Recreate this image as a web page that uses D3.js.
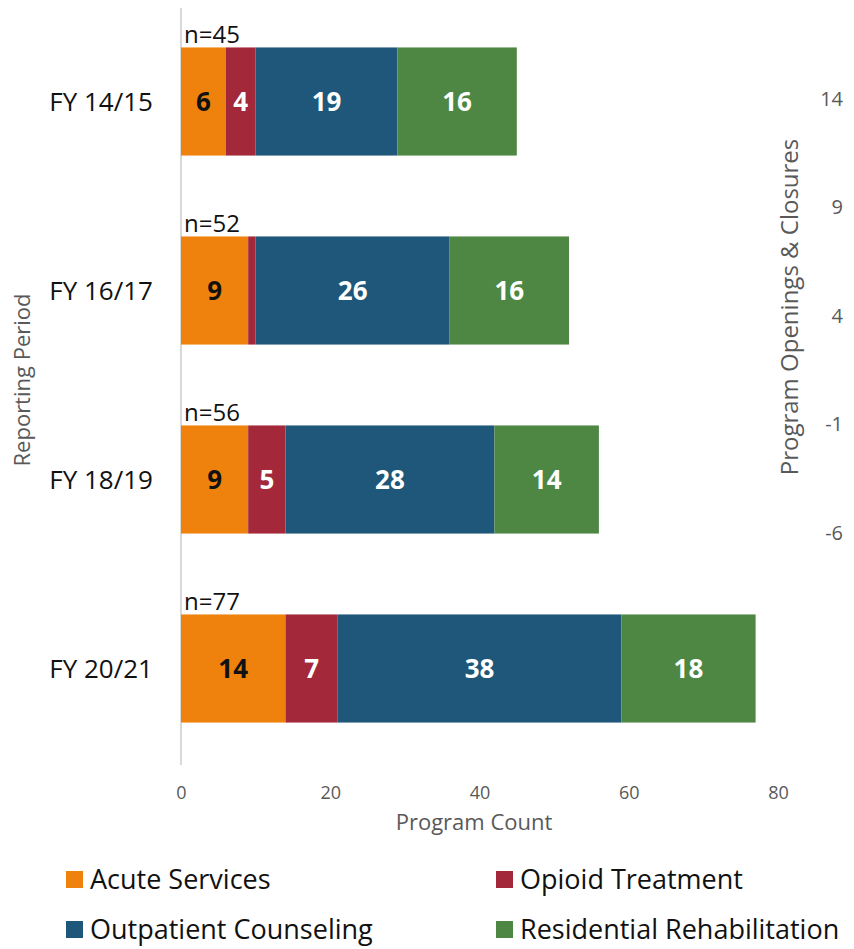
<!DOCTYPE html>
<html>
<head>
<meta charset="utf-8">
<script src="https://cdn.jsdelivr.net/npm/d3@7"></script>
<style>
  body { margin: 0; background: #fff; }
  svg text { font-family: 'Open Sans', 'Noto Sans', sans-serif; }
</style>
</head>
<body>
<div id="chart"></div>
<script>
const periods = ['FY 14/15', 'FY 16/17', 'FY 18/19', 'FY 20/21'];
const acute = [6, 9, 9, 14];
const opioid = [4, 1, 5, 7];
const outpatient = [19, 26, 28, 38];
const residential = [16, 16, 14, 18];
const totals = [45, 52, 56, 77];
const xTicks = [0, 20, 40, 60, 80];
const rightTicks = [14, 9, 4, -1, -6];

const seriesNames = ['Acute Services', 'Opioid Treatment', 'Outpatient Counseling', 'Residential Rehabilitation'];
const seriesColors = ['#EF820D', '#A2283A', '#1E5779', '#4E8743'];
const labelColors = ['#111', '#fff', '#fff', '#fff'];

const width = 854, height = 949;
const svg = d3.select('#chart').append('svg')
  .attr('width', width).attr('height', height);

const rows = periods.map((p, i) => ({
  period: p, total: totals[i],
  'Acute Services': acute[i],
  'Opioid Treatment': opioid[i],
  'Outpatient Counseling': outpatient[i],
  'Residential Rehabilitation': residential[i]
}));

const stack = d3.stack().keys(seriesNames);
const stacked = stack(rows);

const x = d3.scaleLinear().domain([0, 80]).range([181, 778]);
const y = d3.scaleBand().domain(periods).range([7, 763]).paddingInner(0.428).paddingOuter(0.214);

// left axis line
svg.append('line')
  .attr('x1', x(0)).attr('x2', x(0))
  .attr('y1', 8).attr('y2', 765)
  .attr('stroke', '#d9d9d9').attr('stroke-width', 2);

// bars
const groups = svg.selectAll('g.series')
  .data(stacked)
  .join('g')
  .attr('class', 'series')
  .attr('fill', (d, i) => seriesColors[i]);

groups.selectAll('rect')
  .data(d => d)
  .join('rect')
  .attr('x', d => x(d[0]))
  .attr('width', d => x(d[1]) - x(d[0]))
  .attr('y', d => y(d.data.period))
  .attr('height', y.bandwidth());

// segment labels (the 1-program sliver is left unlabelled)
groups.each(function(s, si) {
  d3.select(this).selectAll('text')
    .data(s.filter(d => d[1] - d[0] > 1))
    .join('text')
    .attr('x', d => (x(d[0]) + x(d[1])) / 2)
    .attr('y', d => y(d.data.period) + y.bandwidth() / 2)
    .attr('dy', '0.36em')
    .attr('text-anchor', 'middle')
    .attr('fill', labelColors[si])
    .style('font-size', '26px')
    .style('font-weight', 'bold')
    .text(d => d[1] - d[0]);
});

// n= labels
svg.selectAll('text.n')
  .data(rows)
  .join('text')
  .attr('class', 'n')
  .attr('x', x(0) + 3)
  .attr('y', d => y(d.period) - 4)
  .attr('fill', '#111')
  .style('font-size', '24px')
  .text(d => 'n=' + d.total);

// category labels
svg.selectAll('text.cat')
  .data(periods)
  .join('text')
  .attr('class', 'cat')
  .attr('x', 153)
  .attr('y', d => y(d) + y.bandwidth() / 2)
  .attr('dy', '0.35em')
  .attr('text-anchor', 'end')
  .attr('fill', '#111')
  .style('font-size', '26px')
  .text(d => d);

// x axis ticks
const xAxis = svg.append('g')
  .attr('transform', 'translate(0,793)')
  .call(d3.axisBottom(x).tickValues(xTicks).tickSize(0).tickPadding(0));
xAxis.select('.domain').remove();
xAxis.selectAll('text')
  .attr('dy', '0.35em')
  .attr('fill', '#595959')
  .style('font-size', '18px')
  .style('font-family', "'Open Sans', sans-serif");

svg.append('text')
  .attr('x', 474).attr('y', 822)
  .attr('dy', '0.35em')
  .attr('text-anchor', 'middle')
  .attr('fill', '#595959')
  .style('font-size', '22px')
  .text('Program Count');

svg.append('text')
  .attr('transform', 'translate(22,380) rotate(-90)')
  .attr('dy', '0.35em')
  .attr('text-anchor', 'middle')
  .attr('fill', '#595959')
  .style('font-size', '22px')
  .text('Reporting Period');

// right secondary axis
const yr = d3.scaleLinear().domain([-6, 14]).range([533, 99]);
const rAxis = svg.append('g')
  .attr('transform', 'translate(843,0)')
  .call(d3.axisRight(yr).tickValues(rightTicks).tickSize(0).tickPadding(0).tickFormat(d => String(d)));
rAxis.select('.domain').remove();
rAxis.selectAll('text')
  .attr('text-anchor', 'end')
  .attr('fill', '#595959')
  .style('font-size', '20px')
  .style('font-family', "'Open Sans', sans-serif");

svg.append('text')
  .attr('transform', 'translate(790,307) rotate(-90)')
  .attr('dy', '0.35em')
  .attr('text-anchor', 'middle')
  .attr('fill', '#595959')
  .style('font-size', '24px')
  .text('Program Openings & Closures');

// legend
const legendPos = [[66, 880], [496, 880], [66, 930], [496, 930]];
const legend = svg.selectAll('g.legend')
  .data(seriesNames)
  .join('g')
  .attr('class', 'legend')
  .attr('transform', (d, i) => `translate(${legendPos[i][0]},${legendPos[i][1]})`);

legend.append('rect')
  .attr('x', 0).attr('y', -9)
  .attr('width', 17).attr('height', 17)
  .attr('fill', (d, i) => seriesColors[i]);

legend.append('text')
  .attr('x', 24)
  .attr('dy', '0.35em')
  .attr('fill', '#111')
  .style('font-size', '27px')
  .text(d => d);
</script>
</body>
</html>
